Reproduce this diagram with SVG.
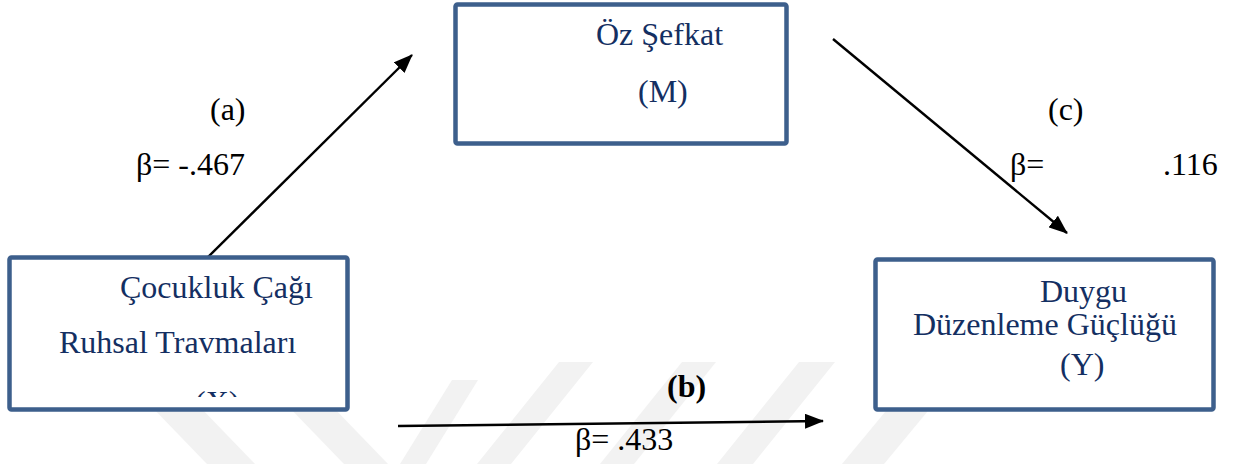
<svg xmlns="http://www.w3.org/2000/svg" width="1235" height="464" viewBox="0 0 1235 464">
<style>
.box{fill:#fff;stroke:#3d5f8c;stroke-width:4.5}
.nt{font-family:"Liberation Serif","Times New Roman",serif;font-size:32px;fill:#142f62}
.lb{font-family:"Liberation Serif","Times New Roman",serif;font-size:32px;fill:#000}
.wm{fill:#f2f2f2}
.cn{stroke:#000;stroke-width:2.4;fill:none;marker-end:url(#ah)}
</style>
<defs>
<marker id="ah" markerUnits="userSpaceOnUse" markerWidth="19" markerHeight="15" refX="18" refY="7.5" orient="auto">
<path d="M0,0 L19,7.5 L0,15 z" fill="#000"/>
</marker>
<clipPath id="cx"><rect x="12" y="260" width="333" height="137"/></clipPath>
</defs>
<rect width="1235" height="464" fill="#fff"/>
<g id="watermark">
<polygon class="wm" points="150,405 198,405 255,464 207,464"/>
<polygon class="wm" points="287,405 331,405 388,464 344,464"/>
<polygon class="wm" points="400,464 426,464 478,380 452,380"/>
<polygon class="wm" points="477,464 511,464 593,362 559,362"/>
<polygon class="wm" points="600,464 634,464 716,362 682,362"/>
<polygon class="wm" points="717,464 753,464 835,362 799,362"/>
<polygon class="wm" points="842,464 884,464 937,400 895,400"/>
</g>
<g id="connectors">
<line class="cn" x1="203" y1="262" x2="412" y2="55"/>
<line class="cn" x1="833" y1="39" x2="1067" y2="233"/>
<line class="cn" x1="398" y1="426" x2="823" y2="421"/>
</g>
<g id="node-m">
<rect class="box" x="455.5" y="4.5" width="331" height="139" rx="2"/>
<text class="nt" x="596" y="45">Öz Şefkat</text>
<text class="nt" x="638" y="102">(M)</text>
</g>
<g id="node-x">
<rect class="box" x="9.5" y="257.5" width="338" height="152" rx="2"/>
<text class="nt" x="120" y="298">Çocukluk Çağı</text>
<text class="nt" x="59" y="353">Ruhsal Travmaları</text>
<text class="nt" x="195" y="413" clip-path="url(#cx)">(X)</text>
</g>
<g id="node-y">
<rect class="box" x="875.5" y="259.5" width="338" height="150" rx="2"/>
<text class="nt" x="1040" y="302">Duygu</text>
<text class="nt" x="913" y="335">Düzenleme Güçlüğü</text>
<text class="nt" x="1060" y="375">(Y)</text>
</g>
<g id="labels">
<text class="lb" x="210" y="120">(a)</text>
<text class="lb" x="136" y="175">β= -.467</text>
<text class="lb" x="1048" y="120">(c)</text>
<text class="lb" x="1010" y="175">β=</text>
<text class="lb" x="1163" y="175">.116</text>
<text class="lb" x="667" y="397" font-weight="bold">(b)</text>
<text class="lb" x="575" y="450">β= .433</text>
</g>
</svg>
